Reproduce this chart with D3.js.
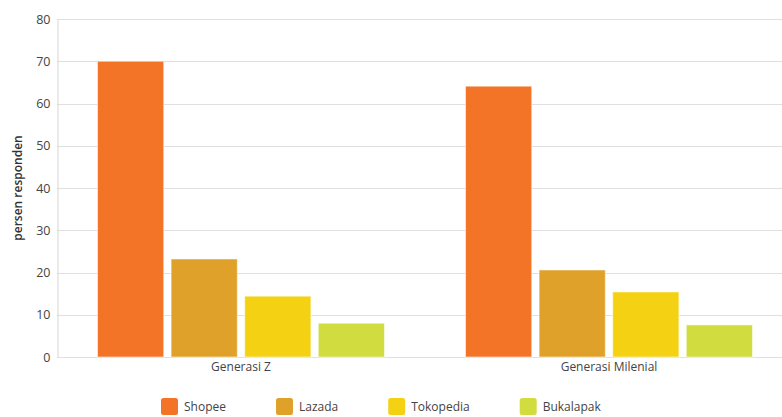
<!DOCTYPE html>
<html>
<head>
<meta charset="utf-8">
<script src="https://cdn.jsdelivr.net/npm/d3@7"></script>
<style>
  html, body { margin: 0; padding: 0; background: #fff; }
  svg { display: block; font-family: "Open Sans", "Noto Sans", sans-serif; }
</style>
</head>
<body>
<svg id="chart" width="782" height="417"></svg>
<script>
const categories = ["Generasi Z", "Generasi Milenial"];
const seriesNames = ["Shopee", "Lazada", "Tokopedia", "Bukalapak"];
const shopee = [70, 64.1];
const lazada = [23.2, 20.6];
const tokopedia = [14.4, 15.4];
const bukalapak = [8.0, 7.6];
const yTicks = [0, 10, 20, 30, 40, 50, 60, 70, 80];
const colors = ["#F37327", "#E0A12A", "#F4D213", "#D1DD3F"];
const yLabel = "persen responden";

const seriesValues = [shopee, lazada, tokopedia, bukalapak];

const svg = d3.select("#chart");
const W = 782, H = 417;
const mLeft = 57, mTop = 19, mBottom = 357, mRight = 793;

const x0 = d3.scaleBand().domain(categories).range([mLeft, mRight]).padding(0);
const x1 = d3.scaleBand().domain(seriesNames)
  .range([40.5, x0.bandwidth() - 40.5]).paddingInner(0.1);
const y = d3.scaleLinear().domain([0, 80]).range([mBottom, mTop]);
const color = d3.scaleOrdinal().domain(seriesNames).range(colors);

// gridlines
svg.append("g")
  .selectAll("line").data(yTicks).join("line")
  .attr("x1", mLeft).attr("x2", W)
  .attr("y1", d => Math.round(y(d)) + 0.5).attr("y2", d => Math.round(y(d)) + 0.5)
  .attr("stroke", "#e0e0e0").attr("stroke-width", 1);

// y axis
const yAxis = svg.append("g")
  .attr("transform", `translate(${mLeft + 0.5},0)`)
  .call(d3.axisLeft(y).tickValues(yTicks).tickSize(0).tickPadding(7));
yAxis.select(".domain").attr("stroke", "#d6d6d6");
yAxis.selectAll("text").attr("fill", "#444").attr("font-size", 12.5)
  .attr("font-family", "'Open Sans', sans-serif");

// y label
svg.append("text")
  .attr("transform", `translate(22,${(mTop + mBottom) / 2}) rotate(-90)`)
  .attr("text-anchor", "middle")
  .attr("font-size", 12).attr("font-weight", 600).attr("fill", "#333")
  .text(yLabel);

// bars
const data = [];
categories.forEach((c, ci) => {
  seriesNames.forEach((s, si) => {
    data.push({ cat: c, series: s, value: seriesValues[si][ci] });
  });
});

svg.append("g").selectAll("rect").data(data).join("rect")
  .attr("x", d => x0(d.cat) + x1(d.series))
  .attr("y", d => y(d.value))
  .attr("width", x1.bandwidth())
  .attr("height", d => y(0) - y(d.value))
  .attr("fill", d => color(d.series))
  .attr("stroke", "#ffffff").attr("stroke-opacity", 0.55).attr("stroke-width", 1);

// x axis labels
const xAxis = svg.append("g")
  .attr("transform", `translate(0,${mBottom})`)
  .call(d3.axisBottom(x0).tickSize(0).tickPadding(5));
xAxis.select(".domain").remove();
xAxis.selectAll("text").attr("fill", "#444").attr("font-size", 12)
  .attr("font-family", "'Open Sans', sans-serif");

// legend
const legend = svg.append("g").attr("transform", "translate(161,398)");
let lx = 0;
seriesNames.forEach((s, i) => {
  const g = legend.append("g").attr("transform", `translate(${lx},0)`);
  g.append("rect").attr("width", 17).attr("height", 17).attr("rx", 2.5)
    .attr("fill", color(s));
  const t = g.append("text").attr("x", 23).attr("y", 13)
    .attr("font-size", 12).attr("fill", "#444").text(s);
  const tw = t.node().getComputedTextLength();
  lx += 23 + tw + 50;
});
</script>
</body>
</html>
